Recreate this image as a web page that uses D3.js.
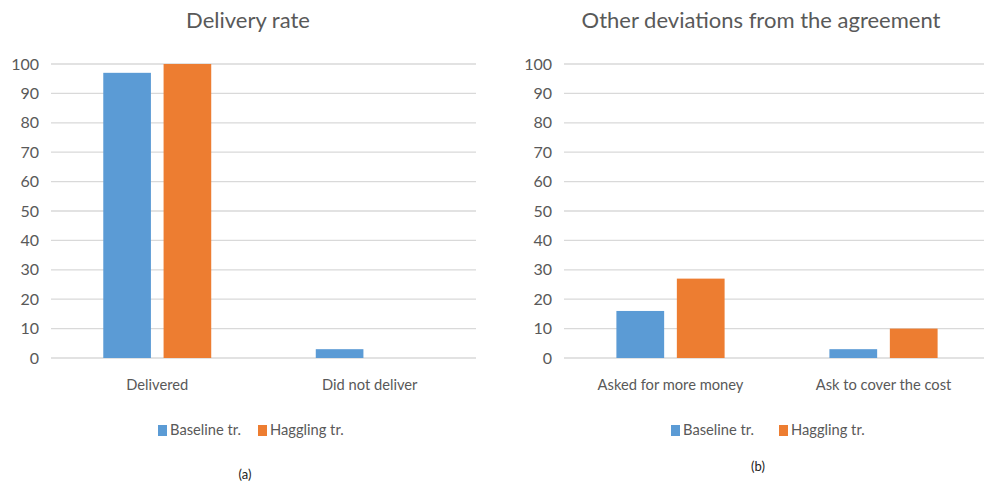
<!DOCTYPE html>
<html>
<head>
<meta charset="utf-8">
<script src="https://cdn.jsdelivr.net/npm/d3@7"></script>
<style>
  body { margin: 0; background: #fff; }
  svg { display: block; font-family: Lato, "Open Sans", sans-serif; }
  .tick-label { fill: #595959; font-size: 16px; }
  .cat-label { fill: #595959; font-size: 14.7px; }
  .title-text { fill: #595959; font-size: 22px; }
  .legend-text { fill: #595959; font-size: 14.7px; }
  .caption { fill: #222; font-size: 13px; }
</style>
</head>
<body>
<div id="chart"></div>
<script>
const series = ["Baseline tr.", "Haggling tr."];
const colors = ["#5b9bd5", "#ed7d31"];
const yTicks = [0, 10, 20, 30, 40, 50, 60, 70, 80, 90, 100];

const deliveryCategories = ["Delivered", "Did not deliver"];
const deliveryBaseline = [97, 3];
const deliveryHaggling = [100, 0];

const deviationCategories = ["Asked for more money", "Ask to cover the cost"];
const deviationBaseline = [16, 3];
const deviationHaggling = [27, 10];

const svg = d3.select("#chart")
  .append("svg")
  .attr("width", 984)
  .attr("height", 487);

function drawPanel(opts) {
  const g = svg.append("g");
  const y = d3.scaleLinear().domain([0, 100]).range([358, 64]);

  const x0 = d3.scaleBand()
    .domain(opts.categories)
    .range([opts.left, opts.right])
    .paddingInner(0)
    .paddingOuter(0);

  const groupWidth = x0.bandwidth() * 0.508;
  const x1 = d3.scaleBand()
    .domain(series)
    .range([0, groupWidth])
    .paddingInner(0.21)
    .paddingOuter(0);

  // gridlines
  g.selectAll(".grid")
    .data(yTicks)
    .enter().append("line")
    .attr("x1", opts.left)
    .attr("x2", opts.right)
    .attr("y1", d => y(d))
    .attr("y2", d => y(d))
    .style("stroke", "#d9d9d9")
    .style("stroke-width", 1.3);

  // y tick labels
  g.selectAll(".tick-label")
    .data(yTicks)
    .enter().append("text")
    .attr("class", "tick-label")
    .attr("x", opts.left - 12)
    .attr("y", d => y(d))
    .attr("dy", "0.35em")
    .attr("text-anchor", "end")
    .text(d => d);

  const rows = [];
  opts.categories.forEach((c, i) => {
    rows.push({ cat: c, s: series[0], v: opts.values[0][i], color: colors[0] });
    rows.push({ cat: c, s: series[1], v: opts.values[1][i], color: colors[1] });
  });

  const offset = (x0.bandwidth() - groupWidth) / 2;
  g.selectAll(".bar")
    .data(rows)
    .enter().append("rect")
    .attr("x", d => x0(d.cat) + offset + x1(d.s))
    .attr("y", d => y(d.v))
    .attr("width", x1.bandwidth())
    .attr("height", d => y(0) - y(d.v))
    .style("fill", d => d.color);

  // category labels
  g.selectAll(".cat-label")
    .data(opts.categories)
    .enter().append("text")
    .attr("class", "cat-label")
    .attr("x", d => x0(d) + x0.bandwidth() / 2)
    .attr("y", 385)
    .attr("dy", "0.35em")
    .attr("text-anchor", "middle")
    .text(d => d);

  // title
  g.append("text")
    .attr("class", "title-text")
    .attr("x", opts.titleX)
    .attr("y", 20)
    .attr("dy", "0.35em")
    .attr("text-anchor", "middle")
    .text(opts.title);

  // legend
  const legend = g.append("g")
    .attr("transform", `translate(${opts.legendX},430)`);
  const item = legend.selectAll(".item")
    .data(series)
    .enter().append("g")
    .attr("transform", (d, i) => `translate(${i * opts.legendStep},0)`);
  item.append("rect")
    .attr("x", 0)
    .attr("y", -5)
    .attr("width", 9)
    .attr("height", 11)
    .style("fill", (d, i) => colors[i]);
  item.append("text")
    .attr("class", "legend-text")
    .attr("x", 12)
    .attr("y", 0)
    .attr("dy", "0.35em")
    .text(d => d);

  // caption
  g.append("text")
    .attr("class", "caption")
    .attr("x", opts.captionX)
    .attr("y", opts.captionY)
    .attr("dy", "0.35em")
    .attr("text-anchor", "middle")
    .text(opts.caption);
}

drawPanel({
  categories: deliveryCategories,
  values: [deliveryBaseline, deliveryHaggling],
  left: 51, right: 476,
  title: "Delivery rate", titleX: 248,
  legendX: 158, legendStep: 100,
  caption: "(a)", captionX: 245, captionY: 474
});

drawPanel({
  categories: deviationCategories,
  values: [deviationBaseline, deviationHaggling],
  left: 564, right: 990,
  title: "Other deviations from the agreement", titleX: 761,
  legendX: 671, legendStep: 108,
  caption: "(b)", captionX: 758, captionY: 466
});
</script>
</body>
</html>
